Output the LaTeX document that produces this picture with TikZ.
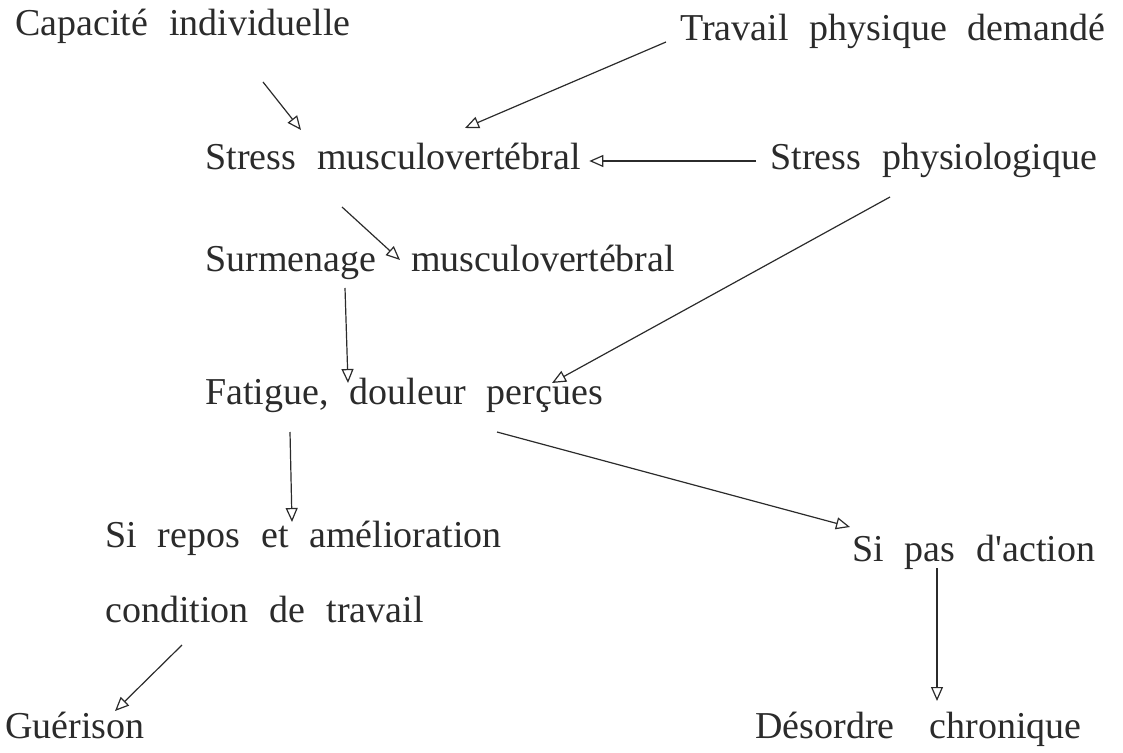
\documentclass[tikz,border=0pt]{standalone}
\usepackage{fontspec}
\setmainfont{Liberation Serif}[WordSpace=2.2]
\usepackage{tikz}
\usetikzlibrary{arrows.meta,calc}

\definecolor{ink}{HTML}{2B2B2B}

\begin{document}
\begin{tikzpicture}[x=0.5pt, y=-0.5pt]
        \tikzstyle{item} = [anchor=base west, inner sep=0pt, text=ink, font=\fontsize{19}{22}\selectfont]
        \tikzstyle{line} = [draw, ink, line width=0.6pt, -{Triangle[open, length=7pt, width=6pt, line width=0.6pt]}]

        \useasboundingbox (0,0) rectangle (1123,753);

        \node [item] (capacite) at (15,36) {Capacité individuelle};
        \node [item] (travail) at (680,41) {Travail physique demandé};
        \node [item] (stressmv) at (205,170) {Stress musculovertébral};
        \node [item] (stressph) at (770,170) {Stress physiologique};
        \node [item] (surmenage) at (205,272) {Surmenage\hspace{7pt} musculovertébral};
        \node [item] (fatigue) at (205,404) {Fatigue, douleur perçues};
        \node [item] (repos) at (105,547) {Si repos et amélioration};
        \node [item] (condition) at (105,622) {condition de travail};
        \node [item] (noaction) at (852,561) {Si pas d\textquotesingle action};
        \node [item] (guerison) at (5,738) {Guérison};
        \node [item] (desordre) at (755,738) {Désordre\hspace{7pt} chronique};

        \path [line] ($(capacite.base west)+(248,46)$) -- ($(stressmv.base west)+(96,-40)$);
        \path [line] ($(travail.base west)+(-14,1)$) -- ($(stressmv.base west)+(260,-42)$);
        \path [line] ($(stressph.base west)+(-14,-9)$) -- ($(stressmv.base east)+(8,-9)$);
        \path [line] ($(stressmv.base west)+(137,37)$) -- ($(surmenage.base west)+(195,-12)$);
        \path [line] ($(stressph.base west)+(120,27)$) -- ($(fatigue.base west)+(347,-21)$);
        \path [line] ($(surmenage.base west)+(140,16)$) -- ($(fatigue.base west)+(143,-21)$);
        \path [line] ($(fatigue.base west)+(85,28)$) -- ($(repos.base west)+(187,-25)$);
        \path [line] ($(fatigue.base west)+(292,28)$) -- ($(noaction.base west)+(-2,-34)$);
        \path [line] ($(condition.base west)+(77,23)$) -- ($(guerison.base west)+(110,-27)$);
        \path [line] ($(noaction.base west)+(85,7)$) -- ($(desordre.base west)+(182,-37)$);
\end{tikzpicture}
\end{document}
